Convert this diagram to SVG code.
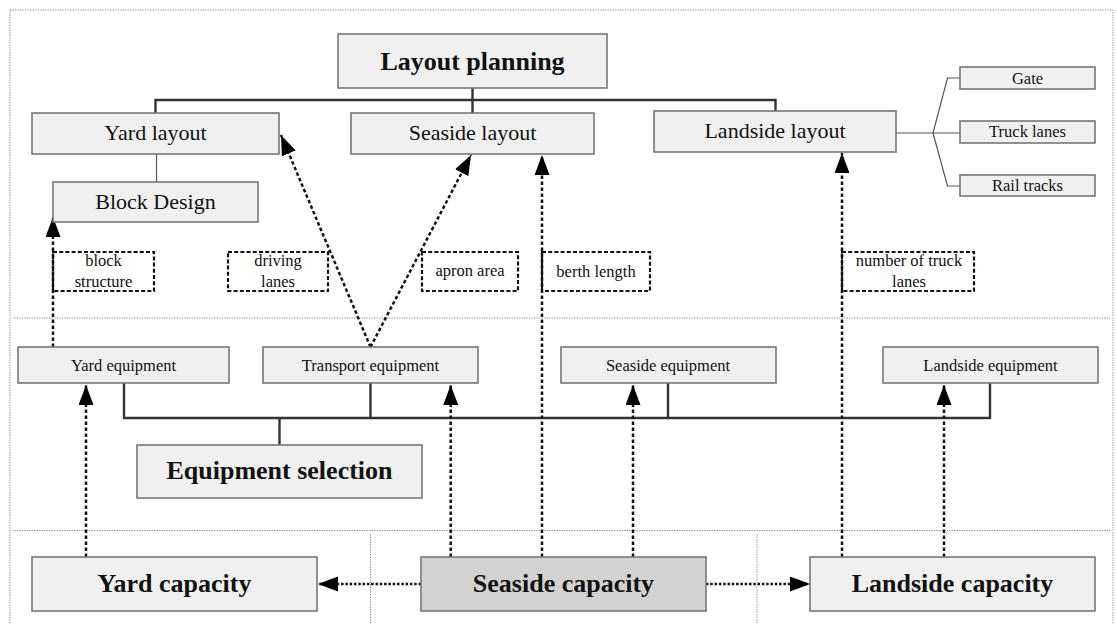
<svg xmlns="http://www.w3.org/2000/svg" width="1117" height="624" viewBox="0 0 1117 624">
<style>
  text { font-family: "Liberation Serif", "Times New Roman", serif; fill: #111; text-anchor: middle; }
  .box { fill: #f0f0f0; stroke: #777; stroke-width: 1.6; }
  .dark { fill: #d2d2d2; }
  .big { font-size: 26px; font-weight: bold; }
  .mid { font-size: 22px; }
  .sm { font-size: 16.5px; }
  .lbl { fill: none; stroke: #111; stroke-width: 2.2; stroke-dasharray: 4 2.2; }
  .sep { fill: none; stroke: #999; stroke-width: 1; stroke-dasharray: 1.5 1; }
  .bus { fill: none; stroke: #333; stroke-width: 2.4; }
  .thin { fill: none; stroke: #555; stroke-width: 1.2; }
  .dash { fill: none; stroke: #111; stroke-width: 2.5; stroke-dasharray: 3.5 2.5; marker-end: url(#arr); }
  .dot { fill: none; stroke: #111; stroke-width: 2.4; stroke-dasharray: 2.5 1.8; marker-end: url(#arr); }
</style>
<defs>
  <marker id="arr" markerUnits="userSpaceOnUse" markerWidth="21" markerHeight="16" refX="20" refY="7.5" orient="auto">
    <path d="M0,0 L20,7.5 L0,15 z" fill="#000"/>
  </marker>
</defs>
<rect width="1117" height="624" fill="#fff"/>

<g id="frame">
  <rect class="sep" x="10" y="10" width="1103" height="700"/>
  <line class="sep" x1="14" y1="318" x2="1110" y2="318"/>
  <line class="sep" x1="14" y1="530.5" x2="1110" y2="530.5"/>
  <line class="sep" x1="370.5" y1="534" x2="370.5" y2="624"/>
  <line class="sep" x1="757" y1="534" x2="757" y2="624"/>
</g>

<g id="connectors">
  <path class="bus" d="M155.5,113 V100 H775.5 V111"/>
  <path class="bus" d="M472.5,88 V113" stroke-width="2"/>
  <path class="thin" d="M156.5,154 V182"/>
  <path class="thin" d="M896,133 H933 M933,133 L947.5,78 H960 M933,133 H960 M933,133 L947.5,186 H960"/>
  <path class="bus" d="M124,383 V418 H990 V383 M370.5,383 V418 M668,383 V418"/>
  <path class="bus" d="M279.5,418 V445" stroke-width="3"/>

  <path class="dash" d="M53,347 V217"/>
  <path class="dash" d="M370.5,347 L281,135"/>
  <path class="dash" d="M370.5,347 L471,155"/>
  <path class="dash" d="M542,557 V155"/>
  <path class="dash" d="M842,557 V153"/>
  <path class="dash" d="M86,557 V385"/>
  <path class="dash" d="M450.7,557 V385"/>
  <path class="dash" d="M633,557 V385"/>
  <path class="dash" d="M944,557 V385"/>
  <path class="dot" d="M421,584 H318"/>
  <path class="dot" d="M706,584 H810"/>
</g>

<g id="layout-planning">
  <rect class="box" x="338" y="34" width="269" height="54"/>
  <text class="big" x="472.5" y="70">Layout planning</text>
</g>
<g id="yard-layout">
  <rect class="box" x="32" y="113" width="247" height="41"/>
  <text class="mid" x="155.5" y="139.5">Yard layout</text>
</g>
<g id="seaside-layout">
  <rect class="box" x="351" y="113" width="243" height="41"/>
  <text class="mid" x="472.5" y="139.5">Seaside layout</text>
</g>
<g id="landside-layout">
  <rect class="box" x="654" y="111" width="242" height="41"/>
  <text class="mid" x="775" y="138">Landside layout</text>
</g>
<g id="block-design">
  <rect class="box" x="53" y="182" width="205" height="40"/>
  <text class="mid" x="155.5" y="208.5">Block Design</text>
</g>
<g id="gate">
  <rect class="box" x="960" y="67" width="135" height="22"/>
  <text class="sm" x="1027.5" y="84">Gate</text>
</g>
<g id="truck-lanes">
  <rect class="box" x="960" y="121" width="135" height="22"/>
  <text class="sm" x="1027.5" y="137">Truck lanes</text>
</g>
<g id="rail-tracks">
  <rect class="box" x="960" y="175" width="135" height="21"/>
  <text class="sm" x="1027.5" y="190.5">Rail tracks</text>
</g>

<g id="label-block-structure">
  <rect class="lbl" x="53" y="252" width="101" height="39"/>
  <text class="sm" x="103.5" y="266">block</text>
  <text class="sm" x="103.5" y="287">structure</text>
</g>
<g id="label-driving-lanes">
  <rect class="lbl" x="228" y="252" width="100" height="39"/>
  <text class="sm" x="278" y="266">driving</text>
  <text class="sm" x="278" y="287">lanes</text>
</g>
<g id="label-apron-area">
  <rect class="lbl" x="422" y="252" width="96" height="39"/>
  <text class="sm" x="470" y="276">apron area</text>
</g>
<g id="label-berth-length">
  <rect class="lbl" x="542" y="252" width="108" height="39"/>
  <line x1="542" y1="252" x2="542" y2="291" stroke="#111" stroke-width="2"/>
  <text class="sm" x="596" y="277">berth length</text>
</g>
<g id="label-truck-lanes">
  <rect class="lbl" x="842" y="252" width="132" height="39"/>
  <text class="sm" x="909" y="266">number of truck</text>
  <text class="sm" x="909" y="287">lanes</text>
</g>

<g id="yard-equipment">
  <rect class="box" x="18" y="347" width="211" height="36"/>
  <text class="sm" x="123.5" y="370.5">Yard equipment</text>
</g>
<g id="transport-equipment">
  <rect class="box" x="263" y="347" width="215" height="36"/>
  <text class="sm" x="370.5" y="370.5">Transport equipment</text>
</g>
<g id="seaside-equipment">
  <rect class="box" x="561" y="347" width="215" height="36"/>
  <text class="sm" x="668" y="370.5">Seaside equipment</text>
</g>
<g id="landside-equipment">
  <rect class="box" x="883" y="347" width="215" height="36"/>
  <text class="sm" x="990.5" y="370.5">Landside equipment</text>
</g>
<g id="equipment-selection">
  <rect class="box" x="137" y="445" width="285" height="53"/>
  <text class="big" x="279.5" y="479">Equipment selection</text>
</g>

<g id="yard-capacity">
  <rect class="box" x="32" y="557" width="285" height="54"/>
  <text class="big" x="174.5" y="591.5">Yard capacity</text>
</g>
<g id="seaside-capacity">
  <rect class="box dark" x="421" y="557" width="285" height="54"/>
  <text class="big" x="563.5" y="591.5">Seaside capacity</text>
</g>
<g id="landside-capacity">
  <rect class="box" x="810" y="557" width="285" height="54"/>
  <text class="big" x="952.5" y="591.5">Landside capacity</text>
</g>
</svg>
